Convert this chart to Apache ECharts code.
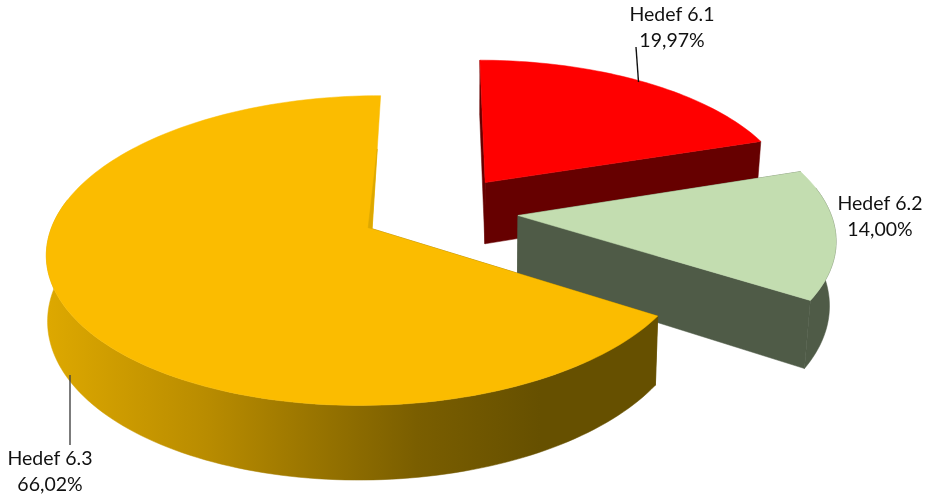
<!DOCTYPE html>
<html>
<head>
<meta charset="utf-8">
<style>html,body{margin:0;padding:0;background:#fff}#c{width:925px;height:500px}</style>
<script src="https://cdn.jsdelivr.net/npm/echarts@6/dist/echarts.min.js"></script>
</head>
<body>
<div id="c"></div>
<script>
var categories = ['Hedef 6.1', 'Hedef 6.2', 'Hedef 6.3'];
var shares = [19.97, 14.00, 66.02];

var topColors = ['#FF0000', '#C3DDB0', '#FBBC00'];
var wallColors = ['#660000', '#4F5B47', null];

// label layout: text centre x, first-line y, optional leader line
var labelLayout = [
  {x: 672, y: 15, line: [[636, 47], [638.5, 82]], lc: '#111'},
  {x: 880, y: 204},
  {x: 50, y: 459, line: [[70, 375], [70, 445]], lc: '#444'}
];

// 3D view of the pie
var view = {cx: 441, cy: 211, a: 322, b: 150.5, m: 0.004, k: 0.142, r: 0.975, explode: 0.24, h: 63, vx: 400};

function project(X, Y, low) {
  var w = 1 + view.m * X + view.k * Y;
  var x = view.cx + view.a * X / w;
  var y = view.cy - view.b * Y / w;
  if (low) {
    var d = x - view.vx;
    x += d > 0 ? -3.5e-5 * d * d : 1e-5 * d * d;
    y += view.h / w;
  }
  return [x, y];
}
var total = shares.reduce(function (s, v) { return s + v; }, 0);

function renderItem(params, api) {
  var i = params.dataIndex;
  var before = 0;
  for (var j = 0; j < i; j++) before += shares[j];
  var t0 = before / total * 2 * Math.PI;
  var t1 = t0 + api.value(0) / total * 2 * Math.PI;
  var mid = (t0 + t1) / 2;
  var ox = view.explode * Math.sin(mid), oy = view.explode * Math.cos(mid);
  var n = Math.ceil((t1 - t0) * 40);
  var topArc = [], lowArc = [], wallTop = [], wallLow = [];
  for (var s = 0; s <= n; s++) {
    var t = t0 + (t1 - t0) * s / n;
    var a = project(ox + view.r * Math.sin(t), oy + view.r * Math.cos(t), false);
    var b = project(ox + view.r * Math.sin(t), oy + view.r * Math.cos(t), true);
    topArc.push(a);
    lowArc.push(b);
    // only the part of the rim that faces the viewer has a visible wall
    if (Math.cos(t) < 0.2) { wallTop.push(a); wallLow.push(b); }
  }
  var apexT = project(ox, oy, false), apexL = project(ox, oy, true);
  var wallFill = wallColors[i] || new echarts.graphic.LinearGradient(48, 0, 540, 0, [
    {offset: 0, color: '#DDA800'},
    {offset: 0.32, color: '#B98C00'},
    {offset: 0.75, color: '#7A5E00'},
    {offset: 1, color: '#665000'}
  ], true);
  var children = [];
  function poly(points, fill) {
    children.push({type: 'polygon', shape: {points: points}, style: {fill: fill, stroke: fill, lineWidth: 0.5}});
  }
  poly([topArc[0], apexT, apexL, lowArc[0]], wallFill);
  if (i !== 2) poly([topArc[n], apexT, apexL, lowArc[n]], wallFill);
  if (wallTop.length > 1) poly(wallTop.concat(wallLow.slice().reverse()), wallFill);
  poly([apexT].concat(topArc), topColors[i]);
  if (i === 2) {
    var p = topArc[n];
    poly([[apexT[0] + (p[0] - apexT[0]) * 0.6, apexT[1] + (p[1] - apexT[1]) * 0.6], apexT, [apexT[0] - 4, apexT[1] - 1]], '#DDA800');
  }
  var lay = labelLayout[i];
  if (lay.line) {
    children.push({type: 'polyline', shape: {points: lay.line}, style: {stroke: lay.lc, lineWidth: 1.4, fill: null}});
  }
  var pct = api.value(0).toFixed(2).replace('.', ',') + '%';
  [categories[i], pct].forEach(function (txt, k) {
    children.push({type: 'text', style: {text: txt, x: lay.x, y: lay.y + k * 26, fill: '#111', font: '19.5px Lato', align: 'center', verticalAlign: 'middle'}});
  });
  return {type: 'group', children: children};
}

var chart = echarts.init(document.getElementById('c'), null, {renderer: 'canvas'});
chart.setOption({
  animation: false,
  backgroundColor: '#fff',
  series: [{
    type: 'custom',
    coordinateSystem: 'none',
    renderItem: renderItem,
    data: shares.map(function (v, i) { return {name: categories[i], value: [v]}; })
  }]
});
</script>
</body>
</html>
